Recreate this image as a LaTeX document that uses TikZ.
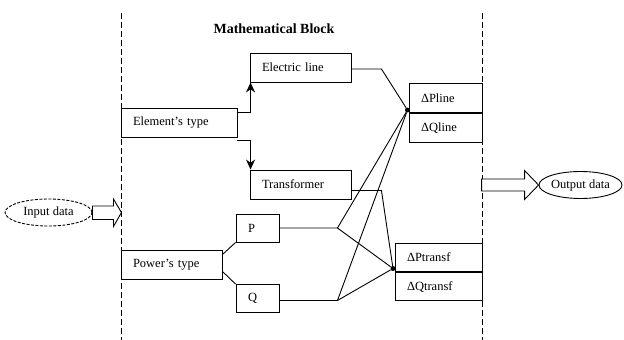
\documentclass[tikz,border=0pt]{standalone}
\usepackage{fontspec}
\setmainfont{Liberation Serif}
\usetikzlibrary{shapes.geometric,arrows.meta}

\begin{document}
\begin{tikzpicture}[x=1pt,y=-1pt]
    % --- global styles ---
    \useasboundingbox (0,0) rectangle (624,340);

    % box style (text width as argument)
    \tikzset{BlockStyle/.style = {
        draw=black,             % border colour
        fill=white,             % fill colour
        line width=0.9pt,       % border width
        inner xsep=12pt,        % left padding of the text
        inner ysep=0pt,
        text width=#1,          % text width
        align=left,             % text to the left
        minimum height=29pt,
        font=\fontsize{12.5}{14}\selectfont
    }}

    % ellipse style (input / output)
    \tikzset{DataStyle/.style = {
        shape=ellipse,          % shape: ellipse
        draw=black,
        line width=0.9pt,
        inner sep=0pt,
        minimum height=27pt,
        minimum width=#1,
        font=\fontsize{12.5}{14}\selectfont
    }}

    % line styles
    \tikzset{LineStyle/.style = {line width=0.9pt, color=black}}
    \tikzset{ArrowStyle/.style = {
        -{Stealth[length=10pt,width=9pt]},  % arrow
        line width=0.9pt,
        color=black
    }}
    \tikzset{SepStyle/.style = {dash pattern=on 6pt off 3pt, line width=0.9pt}}
    \tikzset{DotStyle/.style = {circle, fill=black, inner sep=0pt, minimum size=5pt}}

    % --- separators ---
    \draw[SepStyle] (121,13) -- (121,340);
    \draw[SepStyle] (482,13) -- (482,340);

    % --- title ---
    \node[font=\bfseries\fontsize{14}{16}\selectfont] (title) at (274,29) {Mathematical Block};

    % --- nodes ---
    % left column
    \node[BlockStyle=92pt] (elem)  at (179,122.5)   {Element’s type};
    \node[BlockStyle=77pt] (power) at (171.5,264.5) {Power’s type};

    % middle column
    \node[BlockStyle=77pt] (elec)  at (300.5,67.5)  {Electric line};
    \node[BlockStyle=77pt] (trans) at (300.5,184.5) {Transformer};
    \node[BlockStyle=19pt, minimum height=28pt] (P) at (257.5,228)   {P};
    \node[BlockStyle=19pt, minimum height=28pt] (Q) at (257.5,298.5) {Q};

    % right column
    \node[BlockStyle=49pt, minimum height=29.5pt] (pline) at (445.5,97.75) {ΔPline};
    \node[BlockStyle=49pt, minimum height=29.5pt, anchor=north] (qline) at (pline.south) {ΔQline};
    \node[BlockStyle=63pt, minimum height=28.5pt] (ptr) at (438.5,257.25) {ΔPtransf};
    \node[BlockStyle=63pt, minimum height=28.5pt, anchor=north] (qtr) at (ptr.south) {ΔQtransf};

    % junction dots
    \node[DotStyle] (U) at (407.5,110)   {};
    \node[DotStyle] (L) at (393,268.5)   {};

    % input / output
    \node[DataStyle=87pt, dash pattern=on 3pt off 1.5pt] (inp) at (48.5,212.5) {Input data};
    \node[DataStyle=83pt] (outp) at (580.5,185) {Output data};

    % --- connectors ---
    \draw[ArrowStyle] ([yshift=-5pt]elem.north east) -| ([xshift=1pt]elec.south west);
    \draw[ArrowStyle] ([yshift=-3pt]elem.south east) -| ([xshift=1pt]trans.north west);

    \draw[LineStyle] (power.north east) ++(0,5) -- (P.south west);
    \draw[LineStyle] (power.south east) ++(0,-8) -- (Q.north west);

    \draw[LineStyle] ([yshift=-1.5pt]elec.east) -- ++(30,0) -- (U);
    \draw[LineStyle] ([yshift=-6pt]trans.east) -- ++(30,0) coordinate (tj) -- (L);
    \draw[LineStyle] (P.east) -- ++(58,0) coordinate (pj) -- (U);
    \draw[LineStyle] (pj) -- (L);
    \draw[LineStyle] ([yshift=-2pt]Q.east) -- ++(58,0) coordinate (qj) -- (U);
    \draw[LineStyle] (qj) -- (L);

    % block arrows
    \draw[LineStyle, fill=white] (inp.east) ++(0,-6.5) -- ++(21,0) -- ++(0,-7)
        -- ++(8,13.5) -- ++(-8,14) -- ++(0,-7) -- ++(-21,0) -- cycle;
    \draw[LineStyle, fill=white] (outp.west) ++(-14,-6) -- ++(-43,0) -- ++(0,12)
        -- ++(43,0) -- ++(0,8.5) -- (outp.west) -- ++(-14,-14.5) -- cycle;

\end{tikzpicture}
\end{document}
